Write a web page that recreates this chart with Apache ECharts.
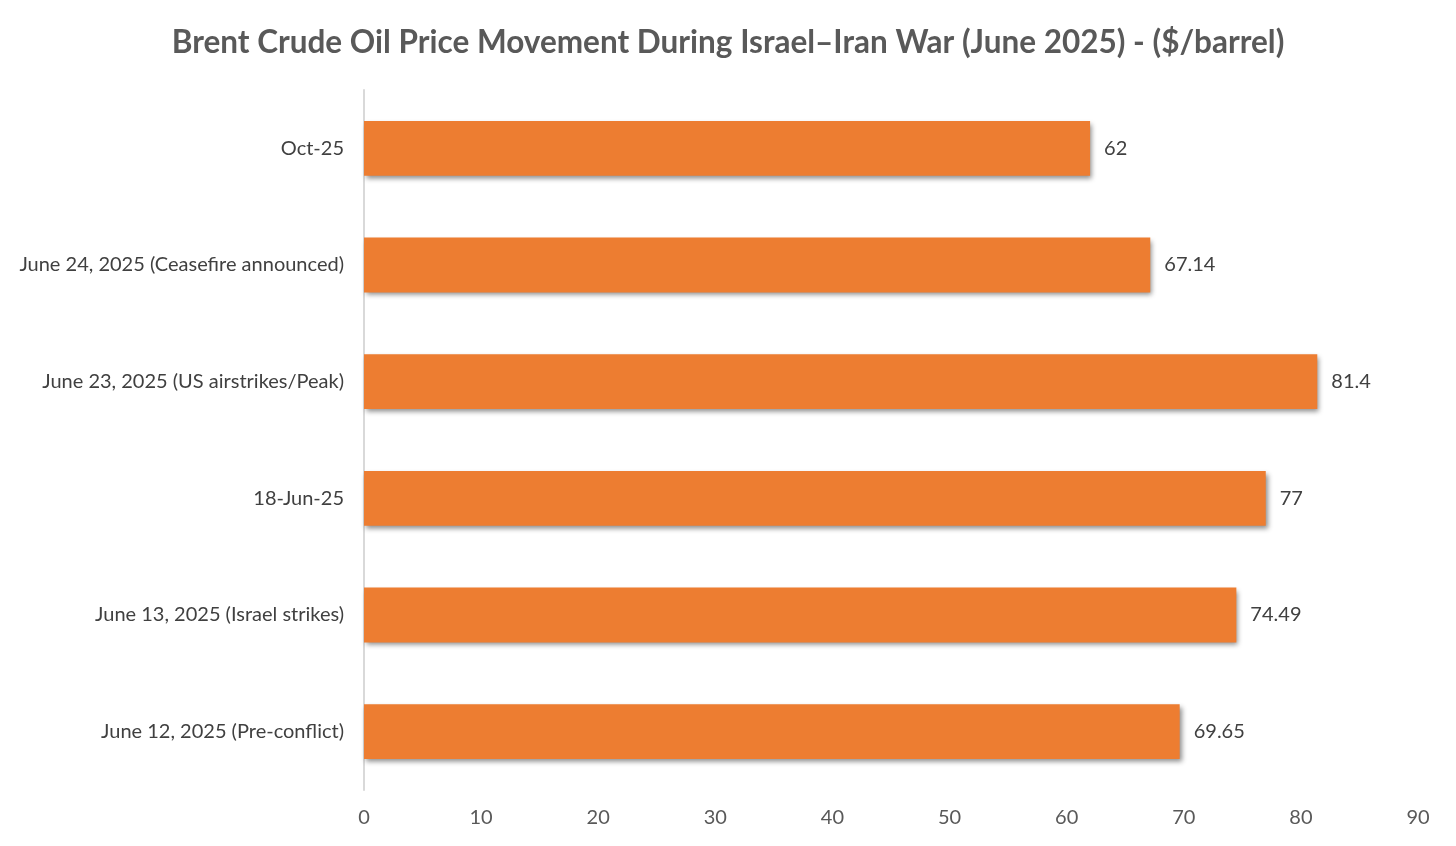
<!DOCTYPE html>
<html><head><meta charset="utf-8">
<script src="https://cdn.jsdelivr.net/npm/echarts@6/dist/echarts.min.js"></script>
<style>html,body{margin:0;padding:0;background:#fff}#c{width:1456px;height:846px}</style>
</head><body><div id="c"></div>
<script>
const categories = [
  "June 12, 2025 (Pre-conflict)",
  "June 13, 2025 (Israel strikes)",
  "18-Jun-25",
  "June 23, 2025 (US airstrikes/Peak)",
  "June 24, 2025 (Ceasefire announced)",
  "Oct-25"
];
const prices = [69.65, 74.49, 77, 81.4, 67.14, 62];
const xTicks = [0, 10, 20, 30, 40, 50, 60, 70, 80, 90];

const FONT = "Lato, 'Open Sans', 'Noto Sans', sans-serif";
const chart = echarts.init(document.getElementById('c'));
chart.setOption({
  backgroundColor: '#fff',
  animation: false,
  title: {
    text: 'Brent Crude Oil Price Movement During Israel\u2013Iran War (June 2025) - ($/barrel)',
    left: 'center', top: 22,
    textStyle: { fontFamily: FONT, fontSize: 31.5, fontWeight: 'bold', color: '#595959' }
  },
  grid: { left: 364, right: 38, top: 90, bottom: 56, containLabel: false },
  xAxis: {
    type: 'value', min: xTicks[0], max: xTicks[xTicks.length - 1], interval: 10,
    axisLine: { show: false }, axisTick: { show: false }, splitLine: { show: false },
    axisLabel: { fontFamily: FONT, fontSize: 20, color: '#595959', margin: 18 }
  },
  yAxis: {
    type: 'category', data: categories,
    axisLine: { show: true, lineStyle: { color: '#d9d9d9', width: 2 } },
    axisTick: { show: false },
    axisLabel: { fontFamily: FONT, fontSize: 20, color: '#404040', margin: 20 }
  },
  series: [{
    type: 'bar', data: prices, barCategoryGap: '53%',
    itemStyle: { color: '#ED7D31', shadowColor: 'rgba(0,0,0,0.45)', shadowBlur: 5, shadowOffsetX: 2, shadowOffsetY: 3 },
    label: { show: true, position: 'right', distance: 14, fontFamily: FONT, fontSize: 20, color: '#404040' }
  }]
});
</script></body></html>
